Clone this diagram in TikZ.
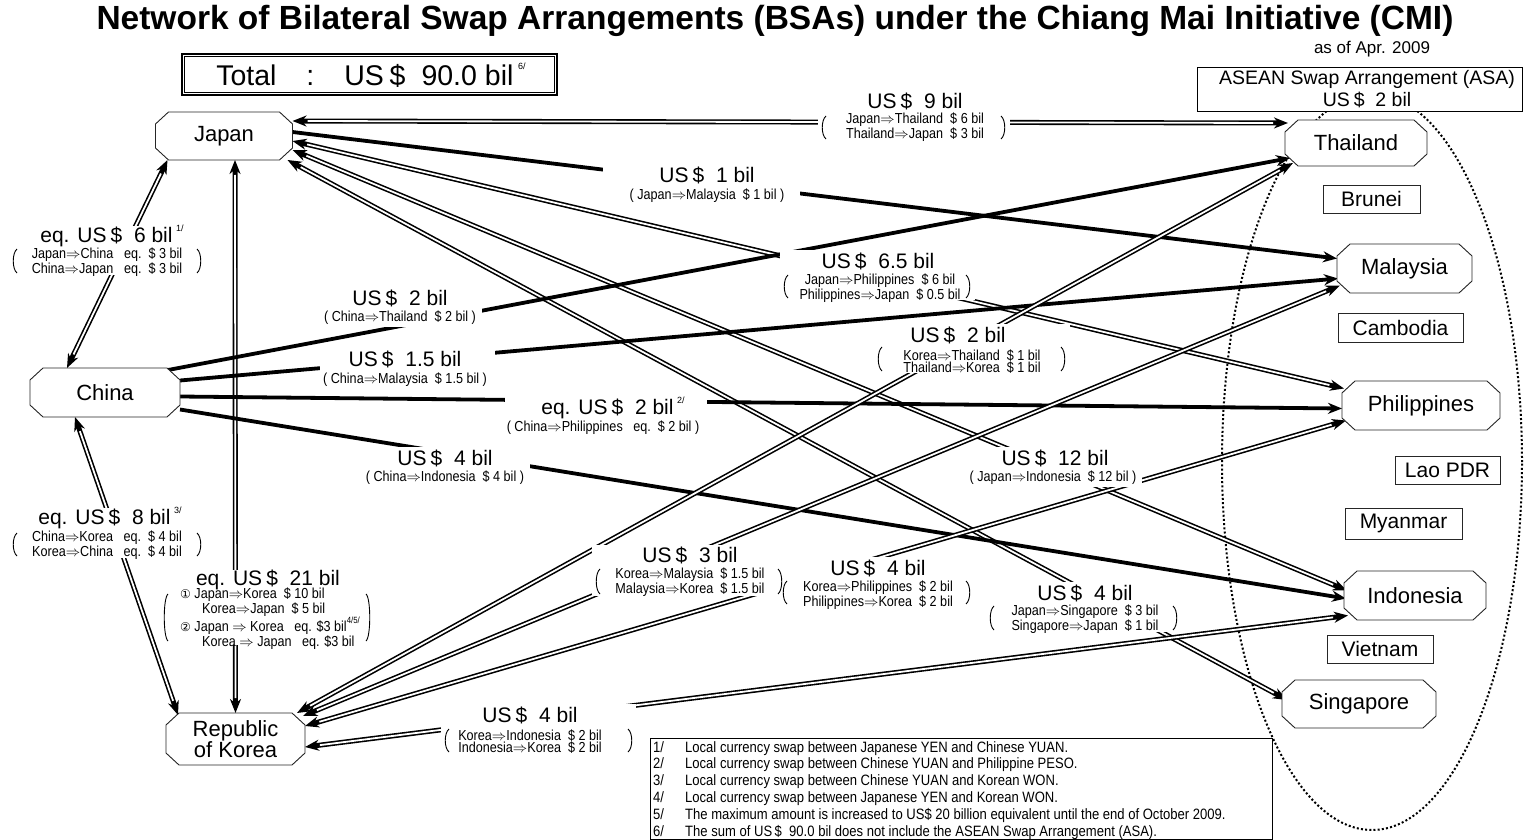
\documentclass[tikz,border=0pt]{standalone}
\usepackage{fontspec}
\setmainfont{Liberation Sans}
\newfontfamily\nar[FakeStretch=0.87]{Liberation Sans}
\newfontfamily\narf[FakeStretch=0.87]{Liberation Sans}
\newfontfamily\dejavu{DejaVu Sans}
\usetikzlibrary{arrows.meta,calc}
\newcommand\usd{US\hspace{0.2em}\$}
\newcommand\imp{{$\Rightarrow$}}
\newcommand\fnm[1]{\raisebox{0.55em}{\fontsize{9pt}{9pt}\selectfont #1}}
\newcommand\octo[2]{\draw[oct] ([xshift=13pt]#1.north west) -- ([xshift=-13pt]#1.north east) -- ([yshift=-12pt]#1.north east) -- ([yshift=12pt]#1.south east) -- ([xshift=-13pt]#1.south east) -- ([xshift=13pt]#1.south west) -- ([yshift=12pt]#1.south west) -- ([yshift=-12pt]#1.north west) -- cycle;
  \node[ctext] (#1t) at (#1) {#2};}
\newcommand\dbl[2]{\draw[dblout] #1 -- #2; \draw[dblin] #1 -- #2;}
\newcommand\brk[4]{\draw[brkl] (#1+4,#3) .. controls (#1-1,#3+4) and (#1-1,#4-4) .. (#1+4,#4);
  \draw[brkl] (#2-4,#3) .. controls (#2+1,#3+4) and (#2+1,#4-4) .. (#2-4,#4);}
\tikzset{
  cbox/.style={inner sep=0pt, outer sep=0pt},
  oct/.style={draw=black!85, line width=0.9pt, fill=white},
  ctext/.style={inner sep=0pt, align=center, font=\fontsize{22pt}{20pt}\selectfont},
  abox/.style={draw=black!85, line width=0.8pt, fill=white, inner sep=0pt, font=\fontsize{21pt}{20pt}\selectfont},
  dblout/.style={line width=5pt, {Stealth[length=14pt,width=11pt]}-{Stealth[length=14pt,width=11pt]}},
  dblin/.style={white, line width=1.8pt, shorten <=15pt, shorten >=15pt},
  sgl/.style={line width=3.8pt, -{Stealth[length=14pt,width=11pt]}},
  ml/.style={inner sep=0pt, font=\fontsize{21pt}{20pt}\selectfont},
  sl/.style={inner sep=0pt, align=center, font=\nar\fontsize{14.5pt}{12pt}\selectfont},
  brkl/.style={line width=0.9pt},
  mask/.style={fill=white},
  fn/.style={inner sep=0pt, align=left, font=\narf\fontsize{15pt}{16.8pt}\selectfont},
}
\begin{document}
\begin{tikzpicture}[x=1pt,y=-1pt]
\useasboundingbox (0,0) rectangle (1524,840);
\fill[white] (0,0) rectangle (1524,840);

% title
\node[inner sep=0pt, font=\bfseries\fontsize{33.5pt}{34pt}\selectfont] (title) at (775,21) {Network of Bilateral Swap Arrangements (BSAs) under the Chiang Mai Initiative (CMI)};
\node[inner sep=0pt, font=\fontsize{17pt}{17pt}\selectfont] (asof) at (1372,49) {as of Apr. 2009};

% total
\node[draw, line width=1.2pt, minimum width=375pt, minimum height=41pt, inner sep=0pt] (totalbox) at (369.5,74.5) {};
\draw[line width=0.6pt] ([xshift=3pt,yshift=-3pt]totalbox.north west) rectangle ([xshift=-3pt,yshift=3pt]totalbox.south east);
\node[inner sep=0pt, font=\fontsize{28.5pt}{28pt}\selectfont] (total) at (371,75) {Total\hspace{30pt}:\hspace{30pt}\usd\hspace{16pt}90.0 bil\,\fnm{6/}};

% ASEAN ellipse
\draw[line width=2pt, dash pattern=on 2pt off 2.2pt] (1372,462) ellipse [x radius=150pt, y radius=368pt];
\node[draw, line width=0.8pt, fill=white, minimum width=325pt, minimum height=44pt, inner sep=0pt] (asabox) at (1359.5,89) {};
\node[align=center, inner sep=0pt, font=\fontsize{19.5pt}{22pt}\selectfont] (asa) at (1367,89) {ASEAN Swap Arrangement (ASA)\\\usd\ \ 2 bil};

% country anchors
\node[cbox, minimum width=137pt, minimum height=48pt] (japan) at (224,136) {};
\node[cbox, minimum width=150pt, minimum height=49pt] (china) at (105,392.5) {};
\node[cbox, minimum width=139pt, minimum height=52pt] (korea) at (235.5,739) {};
\node[cbox, minimum width=142pt, minimum height=46pt] (thailand) at (1356,143) {};
\node[cbox, minimum width=135pt, minimum height=49pt] (malaysia) at (1404.5,268.5) {};
\node[cbox, minimum width=158pt, minimum height=49pt] (philippines) at (1421,405.5) {};
\node[cbox, minimum width=142pt, minimum height=49pt] (indonesia) at (1415,595.5) {};
\node[cbox, minimum width=154pt, minimum height=48pt] (singapore) at (1359,704) {};

% connectors
\dbl{($(japan.east)+(0,-15)$)}{($(thailand.west)+(3,-20)$)}
\draw[sgl] ($(japan.east)+(0,-4)$) -- ($(malaysia.west)+(0,-10)$);
\dbl{($(japan.east)+(0,5)$)}{($(philippines.west)+(2,-17)$)}
\dbl{($(japan.east)+(0,14)$)}{($(indonesia.west)+(3,-5)$)}
\dbl{($(japan.south east)+(-5,0)$)}{($(singapore.west)+(5,-4)$)}
\dbl{($(japan.south west)+(12,0)$)}{($(china.north west)+(37,0)$)}
\dbl{($(japan.south)+(11,0)$)}{(korea.north)}
\dbl{($(china.south west)+(45,0)$)}{($(korea.north west)+(12,2)$)}
\draw[sgl] ($(china.north east)+(-12,2)$) -- ($(thailand.west)+(5,15)$);
\draw[sgl] ($(china.east)+(0,-12)$) -- ($(malaysia.west)+(1,10)$);
\draw[sgl] ($(china.east)+(0,4)$) -- ($(philippines.west)+(0,3)$);
\draw[sgl] ($(china.east)+(0,17)$) -- ($(indonesia.west)+(2,3)$);
\dbl{($(korea.north east)+(-8,0)$)}{($(thailand.west)+(8,20)$)}
\dbl{($(korea.north east)+(-2,3)$)}{($(malaysia.west)+(3,17)$)}
\dbl{($(korea.east)+(0,-13)$)}{($(philippines.west)+(4,15)$)}
\dbl{($(korea.east)+(0,8)$)}{($(indonesia.west)+(4,20)$)}

% label masks
\fill[mask] (818,89) rectangle (1010,142);
\fill[mask] (603,164) rectangle (800,205);
\fill[mask] (780,250) rectangle (975,300);
\fill[mask] (873,324) rectangle (1070,373);
\fill[mask] (965,447) rectangle (1142,487);
\fill[mask] (320,287) rectangle (482,327);
\fill[mask] (320,347) rectangle (495,388);
\fill[mask] (505,397) rectangle (707,437);
\fill[mask] (365,447) rectangle (530,487);
\fill[mask] (10,226) rectangle (205,275);
\fill[mask] (10,508) rectangle (205,558);
\fill[mask] (160,570) rectangle (373,645);
\fill[mask] (592,545) rectangle (786,596);
\fill[mask] (779,557) rectangle (973,607);
\fill[mask] (986,582) rectangle (1180,632);
\fill[mask] (441,704) rectangle (636,754);

% labels
\node[ml] (l1) at (915,101) {\usd\ \ 9 bil};
\node[sl] (l1s) at (915,127.5) {Japan\imp Thailand\ \ \$ 6 bil\\Thailand\imp Japan\ \ \$ 3 bil};
\brk{822}{1005}{116}{139}

\node[ml] (l2) at (707,175) {\usd\ \ 1 bil};
\node[sl] (l2s) at (707,196) {( Japan\imp Malaysia\ \ \$ 1 bil )};

\node[ml] (l3) at (878,261) {\usd\ \ 6.5 bil};
\node[sl] (l3s) at (880,288.5) {Japan\imp Philippines\ \ \$ 6 bil\\Philippines\imp Japan\ \ \$ 0.5 bil};
\brk{784}{970}{275}{298}

\node[ml] (l4) at (958,335) {\usd\ \ 2 bil};
\node[sl] (l4s) at (972,361.5) {Korea\imp Thailand\ \ \$ 1 bil\\Thailand\imp Korea\ \ \$ 1 bil};
\brk{878}{1065}{347}{371}

\node[ml] (l5) at (1055,458) {\usd\ \ 12 bil};
\node[sl] (l5s) at (1053,478) {( Japan\imp Indonesia\ \ \$ 12 bil )};

\node[ml] (l6) at (400,298) {\usd\ \ 2 bil};
\node[sl] (l6s) at (400,318) {( China\imp Thailand\ \ \$ 2 bil )};

\node[ml] (l7) at (405,359) {\usd\ \ 1.5 bil};
\node[sl] (l7s) at (405,380) {( China\imp Malaysia\ \ \$ 1.5 bil )};

\node[ml] (l8) at (613,408) {eq. \usd\ \ 2 bil\,\fnm{2/}};
\node[sl] (l8s) at (603,428) {( China\imp Philippines\ \ \ eq.\ \ \$ 2 bil )};

\node[ml] (l9) at (445,458) {\usd\ \ 4 bil};
\node[sl] (l9s) at (445,478) {( China\imp Indonesia\ \ \$ 4 bil )};

\node[ml] (l10) at (112,236) {eq. \usd\ \ 6 bil\,\fnm{1/}};
\node[sl] (l10s) at (107,262.5) {Japan\imp China\ \ \ eq.\ \ \$ 3 bil\\China\imp Japan\ \ \ eq.\ \ \$ 3 bil};
\brk{13}{201}{249}{273}

\node[ml] (l11) at (110,518) {eq. \usd\ \ 8 bil\,\fnm{3/}};
\node[sl] (l11s) at (107,545.5) {China\imp Korea\ \ \ eq.\ \ \$ 4 bil\\Korea\imp China\ \ \ eq.\ \ \$ 4 bil};
\brk{13}{201}{533}{556}

\node[ml] (l12) at (268,580) {eq. \usd\ \ 21 bil};
\node[sl, align=left, anchor=west] (l12s) at (180,618.5) {{\dejavu\fontsize{12pt}{11pt}\selectfont ①} Japan\imp Korea\ \ \$ 10 bil\\
\hspace{22pt}Korea\imp Japan\ \ \$ 5 bil\\
{\dejavu\fontsize{12pt}{11pt}\selectfont ②} Japan \imp\ Korea\ \ \ eq. \$3 bil\fnm{4/5/}\\
\hspace{22pt}Korea \imp\ Japan\ \ \ eq. \$3 bil};
\brk{164}{370}{594}{641}

\node[ml] (l13) at (690,555) {\usd\ \ 3 bil};
\node[sl] (l13s) at (690,582.5) {Korea\imp Malaysia\ \ \$ 1.5 bil\\Malaysia\imp Korea\ \ \$ 1.5 bil};
\brk{596}{782}{569}{594}

\node[ml] (l14) at (878,568) {\usd\ \ 4 bil};
\node[sl] (l14s) at (878,595) {Korea\imp Philippines\ \ \$ 2 bil\\Philippines\imp Korea\ \ \$ 2 bil};
\brk{783}{970}{581}{604}

\node[ml] (l15) at (1085,593) {\usd\ \ 4 bil};
\node[sl] (l15s) at (1085,619.5) {Japan\imp Singapore\ \ \$ 3 bil\\Singapore\imp Japan\ \ \$ 1 bil};
\brk{990}{1177}{606}{630}

\node[ml] (l16) at (530,715) {\usd\ \ 4 bil};
\node[sl] (l16s) at (530,742) {Korea\imp Indonesia\ \ \$ 2 bil\\Indonesia\imp Korea\ \ \$ 2 bil};
\brk{445}{632}{729}{752}

% country shapes
\octo{japan}{Japan}
\octo{china}{China}
\octo{korea}{Republic\\of Korea}
\octo{thailand}{Thailand}
\octo{malaysia}{Malaysia}
\octo{philippines}{Philippines}
\octo{indonesia}{Indonesia}
\octo{singapore}{Singapore}

% ASEAN-only boxes
\node[abox, minimum width=97pt, minimum height=28pt] (brunei) at (1371.5,199) {Brunei};
\node[abox, minimum width=125pt, minimum height=29pt] (cambodia) at (1400.5,327.5) {Cambodia};
\node[abox, minimum width=105pt, minimum height=28pt] (lao) at (1447.5,470) {Lao PDR};
\node[abox, minimum width=117pt, minimum height=31pt] (myanmar) at (1403.5,523.5) {Myanmar};
\node[abox, minimum width=106pt, minimum height=28pt] (vietnam) at (1380,649) {Vietnam};

% footnotes
\draw[line width=0.8pt] (650,738) rectangle (1272,839);
\node[fn, anchor=north west] (fnnum) at (653,741) {1/\\2/\\3/\\4/\\5/\\6/};
\node[fn, anchor=north west] (fntext) at (685,741) {Local currency swap between Japanese YEN and Chinese YUAN.\\
Local currency swap between Chinese YUAN and Philippine PESO.\\
Local currency swap between Chinese YUAN and Korean WON.\\
Local currency swap between Japanese YEN and Korean WON.\\
The maximum amount is increased to US\$ 20 billion equivalent until the end of October 2009.\\
The sum of US\,\$\ \ 90.0 bil does not include the ASEAN Swap Arrangement (ASA).};
\end{tikzpicture}
\end{document}
